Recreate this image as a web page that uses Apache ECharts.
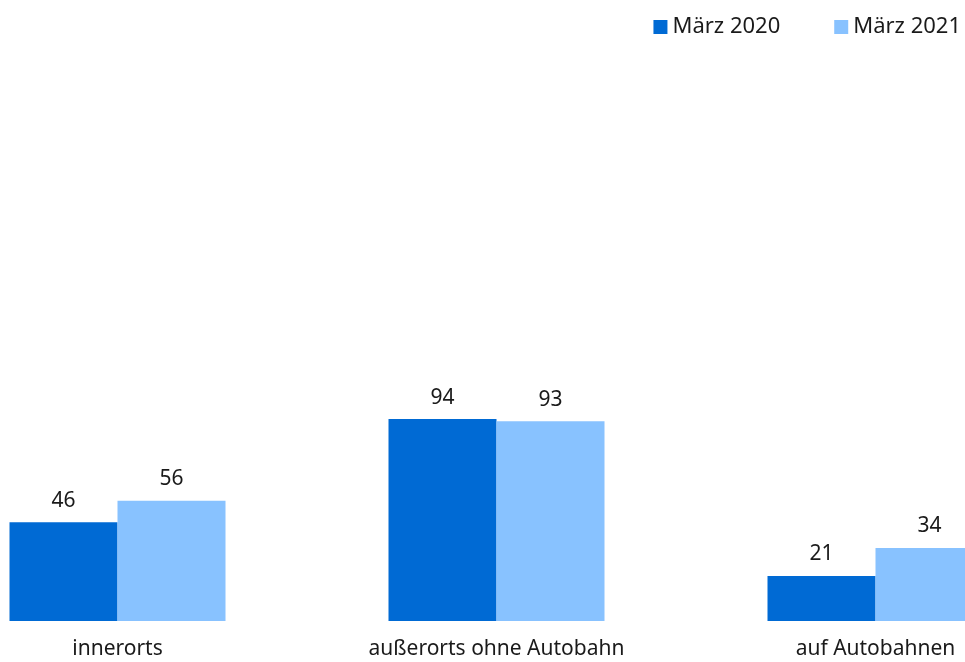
<!DOCTYPE html>
<html>
<head>
<meta charset="utf-8">
<script src="https://cdn.jsdelivr.net/npm/echarts@6/dist/echarts.min.js"></script>
<style>
  html, body { margin: 0; padding: 0; background: #ffffff; overflow: hidden; }
  #wrap { width: 965px; height: 662px; overflow: hidden; position: relative; }
  /* Diagramm ist im Original rechts und links angeschnitten */
  #chart { position: absolute; left: -72px; top: 0; width: 1137px; height: 662px; }
</style>
</head>
<body>
<div id="wrap"><div id="chart"></div></div>
<script>
// Kategorien und Werte
const categories = ["innerorts", "außerorts ohne Autobahn", "auf Autobahnen"];
const maerz2020 = [46, 94, 21];
const maerz2021 = [56, 93, 34];

const chart = echarts.init(document.getElementById("chart"));
const font = "Noto Sans";

const option = {
  animation: false,
  textStyle: { fontFamily: font },
  legend: {
    right: 99,
    top: 11,
    icon: "rect",
    itemWidth: 14,
    itemHeight: 14,
    itemGap: 54,
    textStyle: { fontSize: 22, color: "#1a1a1a", fontFamily: font },
    data: ["März 2020", "März 2021"],
  },
  grid: {
    left: 0,
    right: 0,
    top: 84,
    bottom: 41,
  },
  xAxis: {
    type: "category",
    data: categories,
    axisLine: { show: false },
    axisTick: { show: false },
    axisLabel: {
      color: "#1a1a1a",
      fontSize: 21,
      margin: 18,
      fontFamily: font,
    },
  },
  yAxis: {
    type: "value",
    min: 0,
    max: 250,
    show: false,
  },
  series: [
    {
      name: "März 2020",
      type: "bar",
      data: maerz2020,
      barWidth: 108,
      barGap: 0,
      itemStyle: { color: "#006ad4" },
      label: {
        show: true,
        position: "top",
        distance: 11,
        fontSize: 21,
        color: "#1a1a1a",
        fontFamily: font,
      },
    },
    {
      name: "März 2021",
      type: "bar",
      data: maerz2021,
      barWidth: 108,
      barGap: 0,
      itemStyle: { color: "#88c2ff" },
      label: {
        show: true,
        position: "top",
        distance: 11,
        fontSize: 21,
        color: "#1a1a1a",
        fontFamily: font,
      },
    },
  ],
};

chart.setOption(option);
</script>
</body>
</html>
